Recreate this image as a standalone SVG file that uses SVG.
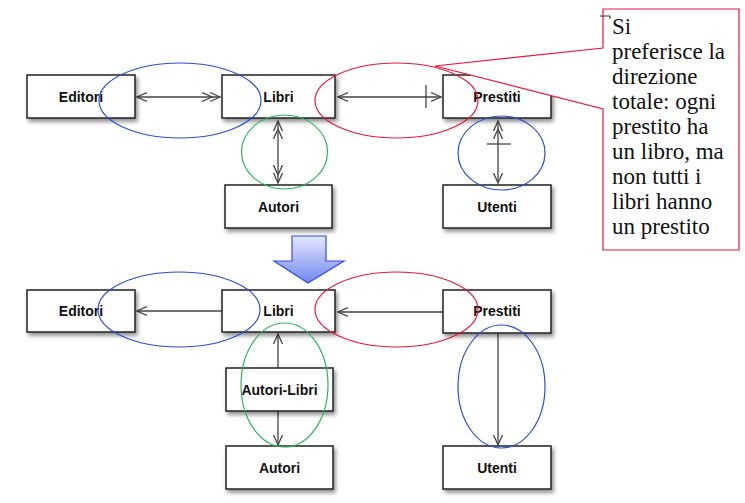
<svg xmlns="http://www.w3.org/2000/svg" width="745" height="503" viewBox="0 0 745 503">
<style>
.box{fill:#fff;stroke:#222;stroke-width:1.5;filter:url(#sh)}
.lbl{font-family:"Liberation Sans",Arial,sans-serif;font-weight:bold;font-size:14px;fill:#111;text-anchor:middle}
.ln{stroke:#444;stroke-width:1.3;fill:none}
.tick{stroke:#333;stroke-width:1.2;fill:none}
.eb{fill:none;stroke:#2a4fd8;stroke-width:1.2}
.er{fill:none;stroke:#e8173a;stroke-width:1.2}
.eg{fill:none;stroke:#2fb35c;stroke-width:1.2}
.note{font-family:"Liberation Serif","Times New Roman",serif;font-size:23px;fill:#111}
</style>
<defs>
<filter id="sh" x="-20%" y="-30%" width="150%" height="170%">
<feDropShadow dx="2" dy="3" stdDeviation="2" flood-color="#000" flood-opacity="0.45"/>
</filter>
<marker id="one" markerUnits="userSpaceOnUse" markerWidth="12" markerHeight="12" refX="10" refY="6" orient="auto-start-reverse" viewBox="0 0 12 12">
<path d="M0,1.5 L10,6 L0,10.5" fill="none" stroke="#444" stroke-width="1.3"/>
</marker>
<marker id="two" markerUnits="userSpaceOnUse" markerWidth="20" markerHeight="12" refX="18" refY="6" orient="auto-start-reverse" viewBox="0 0 20 12">
<path d="M0,1.5 L10,6 L0,10.5 M8,1.5 L18,6 L8,10.5" fill="none" stroke="#444" stroke-width="1.3"/>
</marker>
<linearGradient id="ag" x1="0" y1="0" x2="0" y2="1">
<stop offset="0" stop-color="#e6e8ff"/>
<stop offset="1" stop-color="#7287ee"/>
</linearGradient>
</defs>

<g id="connectors">
<line class="ln" x1="137" y1="97" x2="220" y2="97" marker-start="url(#one)" marker-end="url(#two)"/>
<line class="ln" x1="278" y1="121" x2="278" y2="183" marker-start="url(#two)" marker-end="url(#two)"/>
<line class="ln" x1="338" y1="97" x2="441" y2="97" marker-start="url(#one)" marker-end="url(#one)"/>
<line class="tick" x1="426" y1="85" x2="426" y2="108"/>
<line class="ln" x1="498" y1="121" x2="498" y2="183" marker-start="url(#two)" marker-end="url(#one)"/>
<line class="tick" x1="487" y1="144" x2="511" y2="144"/>

<line class="ln" x1="222" y1="311" x2="137" y2="311" marker-end="url(#one)"/>
<line class="ln" x1="443" y1="312" x2="338" y2="312" marker-end="url(#one)"/>
<line class="ln" x1="278" y1="368" x2="278" y2="334" marker-end="url(#one)"/>
<line class="ln" x1="278" y1="411" x2="278" y2="445" marker-end="url(#one)"/>
<line class="ln" x1="498" y1="333" x2="498" y2="445" marker-end="url(#one)"/>
</g>

<g id="n-editori-top"><rect class="box" x="27" y="75" width="108" height="43"/><text class="lbl" x="81" y="102">Editori</text></g>
<g id="n-libri-top"><rect class="box" x="222" y="75" width="113" height="43"/><text class="lbl" x="278.5" y="102">Libri</text></g>
<g id="n-prestiti-top"><rect class="box" x="443" y="75" width="108" height="43"/><text class="lbl" x="497" y="102">Prestiti</text></g>
<g id="n-autori-top"><rect class="box" x="225" y="185" width="107" height="43"/><text class="lbl" x="278.5" y="212">Autori</text></g>
<g id="n-utenti-top"><rect class="box" x="443" y="185" width="108" height="43"/><text class="lbl" x="497" y="212">Utenti</text></g>

<g id="n-editori-bot"><rect class="box" x="27" y="290" width="108" height="42"/><text class="lbl" x="81" y="316">Editori</text></g>
<g id="n-libri-bot"><rect class="box" x="222" y="290" width="113" height="42"/><text class="lbl" x="278.5" y="316">Libri</text></g>
<g id="n-prestiti-bot"><rect class="box" x="443" y="290" width="108" height="43"/><text class="lbl" x="497" y="316">Prestiti</text></g>
<g id="n-autorilibri"><rect class="box" x="226" y="368" width="107" height="43"/><text class="lbl" x="279.5" y="395">Autori-Libri</text></g>
<g id="n-autori-bot"><rect class="box" x="226" y="446" width="107" height="43"/><text class="lbl" x="279.5" y="473">Autori</text></g>
<g id="n-utenti-bot"><rect class="box" x="443" y="446" width="108" height="43"/><text class="lbl" x="497" y="473">Utenti</text></g>

<g id="highlights">
<ellipse class="eb" cx="180" cy="100.5" rx="81" ry="37.5"/>
<ellipse class="eg" cx="284.5" cy="152" rx="43" ry="37"/>
<ellipse class="er" cx="396.5" cy="100.5" rx="81.5" ry="37.5"/>
<ellipse class="eb" cx="501.5" cy="153" rx="43.5" ry="37"/>
<ellipse class="eb" cx="179" cy="309.5" rx="81" ry="37.5"/>
<ellipse class="er" cx="396.5" cy="309.5" rx="81.5" ry="37.5"/>
<ellipse class="eg" cx="284.5" cy="385" rx="43.5" ry="62"/>
<ellipse class="eb" cx="501.5" cy="386.5" rx="43.5" ry="61.5"/>
</g>

<g id="big-arrow">
<path d="M292,236 H326 V261 H344 L308,283 L274,261 H292 Z" fill="url(#ag)" stroke="#2f50e0" stroke-width="1.2" stroke-linejoin="miter"/>
</g>

<g id="callout">
<path d="M603,9 H739 V250 H603 V109 L435,66 L603,48 Z" fill="#fff" stroke="#e8173a" stroke-width="1.2"/>
<path d="M600,16 H610 V19" fill="none" stroke="#333" stroke-width="1"/>
<text class="note" x="612">
<tspan x="612" y="34">Si</tspan>
<tspan x="612" y="59">preferisce la</tspan>
<tspan x="612" y="84">direzione</tspan>
<tspan x="612" y="109">totale: ogni</tspan>
<tspan x="612" y="134">prestito ha</tspan>
<tspan x="612" y="159">un libro, ma</tspan>
<tspan x="612" y="184">non tutti i</tspan>
<tspan x="612" y="209">libri hanno</tspan>
<tspan x="612" y="234">un prestito</tspan>
</text>
</g>
</svg>
